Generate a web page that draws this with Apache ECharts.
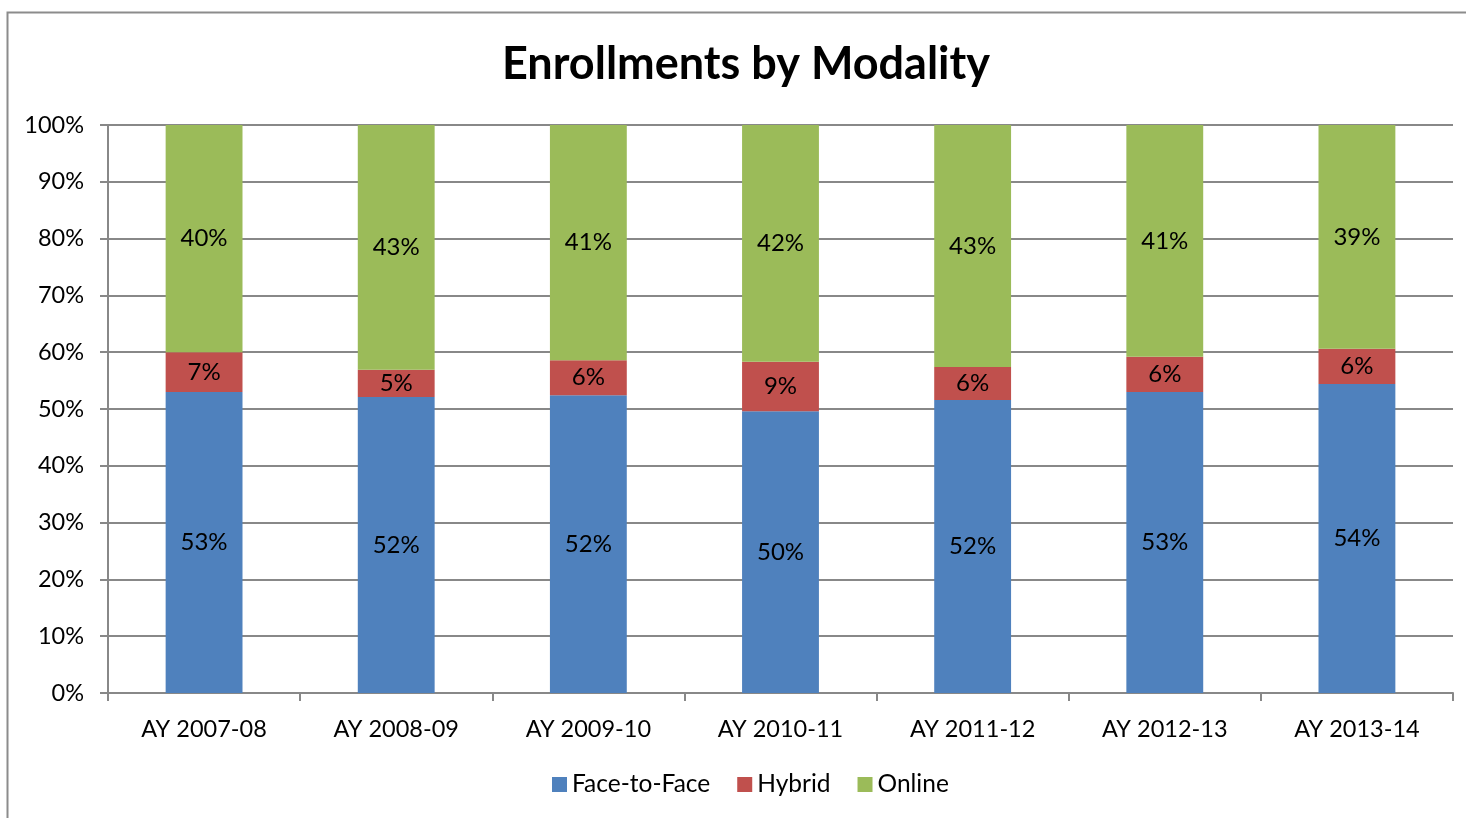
<!DOCTYPE html>
<html>
<head>
<meta charset="utf-8">
<script src="https://cdn.jsdelivr.net/npm/echarts@6/dist/echarts.min.js"></script>
<style>
  html, body { margin: 0; padding: 0; background: #fff; }
  #chart { width: 1466px; height: 818px; }
</style>
</head>
<body>
<div id="chart"></div>
<script>
// years on the x axis
let categories = ['AY 2007-08', 'AY 2008-09', 'AY 2009-10', 'AY 2010-11', 'AY 2011-12', 'AY 2012-13', 'AY 2013-14']

// share of enrollments, percent
let faceToFace = [53.0, 52.1, 52.4, 49.6, 51.6, 53.0, 54.4]
let hybrid = [7.0, 4.8, 6.2, 8.7, 5.8, 6.2, 6.2]
let online = [40.0, 43.1, 41.4, 41.7, 42.6, 40.8, 39.4]

let fontFamily = 'Lato, "Open Sans", sans-serif'

let seriesDefs = [
  { name: 'Face-to-Face', data: faceToFace, color: '#4F81BD' },
  { name: 'Hybrid', data: hybrid, color: '#C0504D' },
  { name: 'Online', data: online, color: '#9BBB59' }
]

let myChart = echarts.init(document.getElementById('chart'))

let option = {
  animation: false,
  backgroundColor: '#fff',
  textStyle: { fontFamily: fontFamily },
  graphic: [
    {
      type: 'rect',
      shape: { x: 7.5, y: 12.5, width: 1500, height: 900 },
      style: { fill: 'none', stroke: '#8c8c8c', lineWidth: 2 },
      silent: true
    }
  ],
  title: {
    text: 'Enrollments by Modality',
    left: 741,
    textAlign: 'center',
    top: 37,
    textStyle: { fontFamily: fontFamily, fontSize: 45, fontWeight: 'bold', color: '#000' }
  },
  legend: {
    bottom: 16,
    left: 547,
    itemWidth: 15,
    itemHeight: 15,
    itemGap: 27,
    icon: 'rect',
    textStyle: { fontFamily: fontFamily, fontSize: 24.5, color: '#000' },
    data: seriesDefs.map(s => s.name)
  },
  grid: { left: 108, right: 13, top: 125, bottom: 125, containLabel: false },
  xAxis: {
    type: 'category',
    data: categories,
    axisLine: { lineStyle: { color: '#888', width: 2 } },
    axisTick: { show: true, length: 8, alignWithLabel: false, lineStyle: { color: '#888', width: 2 } },
    axisLabel: { fontFamily: fontFamily, fontSize: 23.5, color: '#000', margin: 24 }
  },
  yAxis: {
    type: 'value',
    min: 0,
    max: 100,
    interval: 10,
    axisLine: { show: true, lineStyle: { color: '#888', width: 2 } },
    axisTick: { show: true, length: 8, lineStyle: { color: '#888', width: 2 } },
    axisLabel: { fontFamily: fontFamily, fontSize: 23.5, color: '#000', margin: 24, formatter: v => v + '%' },
    splitLine: { lineStyle: { color: '#888', width: 2 } }
  },
  series: seriesDefs.map(s => ({
    name: s.name,
    type: 'bar',
    stack: 'total',
    barWidth: '40%',
    data: s.data,
    itemStyle: { color: s.color },
    label: {
      show: true,
      position: 'inside',
      fontFamily: fontFamily,
      fontSize: 24,
      color: '#000',
      formatter: p => Math.round(p.value) + '%'
    }
  }))
}

myChart.setOption(option)
</script>
</body>
</html>
